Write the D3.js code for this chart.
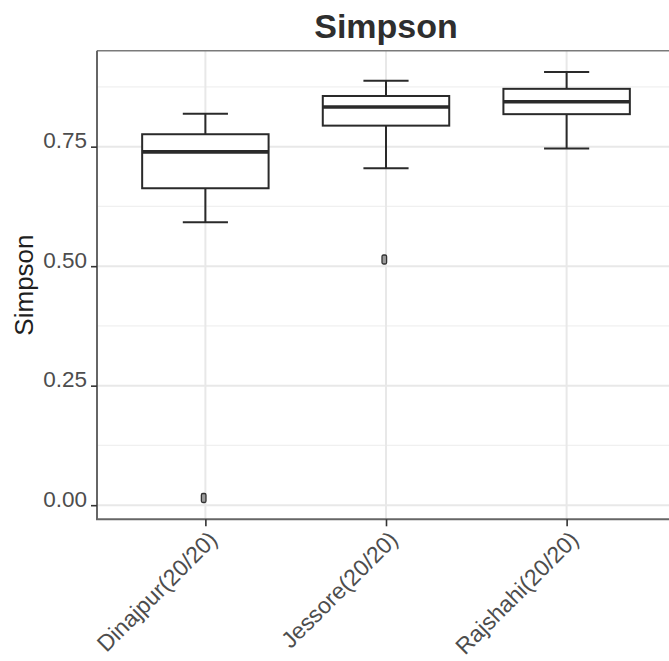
<!DOCTYPE html>
<html>
<head>
<meta charset="utf-8">
<script src="https://cdn.jsdelivr.net/npm/d3@7"></script>
<style>
  html, body { margin: 0; padding: 0; background: #fff; }
  svg { display: block; font-family: "Liberation Sans", Arial, Helvetica, sans-serif; }
</style>
</head>
<body>
<svg id="chart" width="669" height="661"></svg>
<script>
// Simpson diversity per district (five-number summaries + outliers)
const categories = ["Dinajpur(20/20)", "Jessore(20/20)", "Rajshahi(20/20)"];
const whiskerLow  = [0.592, 0.705, 0.746];
const q1          = [0.663, 0.794, 0.818];
const median      = [0.739, 0.833, 0.844];
const q3          = [0.776, 0.856, 0.871];
const whiskerHigh = [0.819, 0.888, 0.906];
const outliers    = [[0.015], [0.514], []];
const yTicks      = [0, 0.25, 0.5, 0.75];
const yMinorTicks = [0.125, 0.375, 0.625, 0.875];
const yTickLabels = ["0.00", "0.25", "0.50", "0.75"];

const svg = d3.select("#chart");
const panel = { left: 97, right: 675, top: 50.8, bottom: 519.3 };

// continuous y with 5% expansion on each side of the data range
const allVals = whiskerLow.concat(whiskerHigh, outliers.flat());
const lo = d3.min(allVals), hi = d3.max(allVals);
const pad = (hi - lo) * 0.05;
const y = d3.scaleLinear().domain([lo - pad, hi + pad]).range([panel.bottom, panel.top]);

// discrete x with 0.6 units of padding on each side
const x = d3.scalePoint().domain(categories).range([panel.left, panel.right]).padding(0.6);
const step = x.step();

const boxes = categories.map((c, i) => ({
  cat: c, lo: whiskerLow[i], q1: q1[i], med: median[i], q3: q3[i], hi: whiskerHigh[i], out: outliers[i]
}));

// panel background and grid
svg.append("rect").attr("x", panel.left).attr("y", panel.top)
  .attr("width", panel.right - panel.left).attr("height", panel.bottom - panel.top)
  .attr("fill", "#fff");

const grid = svg.append("g");
grid.selectAll("line.minor").data(yMinorTicks).join("line")
  .attr("x1", panel.left).attr("x2", panel.right)
  .attr("y1", d => y(d)).attr("y2", d => y(d))
  .attr("stroke", "#f0f0f0").attr("stroke-width", 1.3);
grid.selectAll("line.major").data(yTicks).join("line")
  .attr("x1", panel.left).attr("x2", panel.right)
  .attr("y1", d => y(d)).attr("y2", d => y(d))
  .attr("stroke", "#e8e8e8").attr("stroke-width", 2);
grid.selectAll("line.vmajor").data(categories).join("line")
  .attr("x1", d => x(d)).attr("x2", d => x(d))
  .attr("y1", panel.top).attr("y2", panel.bottom)
  .attr("stroke", "#e8e8e8").attr("stroke-width", 2);

// boxplots
const boxW = step * 0.7, capW = step * 0.25;
const g = svg.append("g").attr("stroke", "#2a2a2a").attr("fill", "none");
boxes.forEach(b => {
  const cx = x(b.cat);
  // whiskers
  g.append("line").attr("x1", cx).attr("x2", cx).attr("y1", y(b.q3)).attr("y2", y(b.hi)).attr("stroke-width", 2);
  g.append("line").attr("x1", cx).attr("x2", cx).attr("y1", y(b.q1)).attr("y2", y(b.lo)).attr("stroke-width", 2);
  g.append("line").attr("x1", cx - capW / 2).attr("x2", cx + capW / 2).attr("y1", y(b.hi)).attr("y2", y(b.hi)).attr("stroke-width", 2);
  g.append("line").attr("x1", cx - capW / 2).attr("x2", cx + capW / 2).attr("y1", y(b.lo)).attr("y2", y(b.lo)).attr("stroke-width", 2);
  // box
  g.append("rect").attr("x", cx - boxW / 2).attr("y", y(b.q3))
    .attr("width", boxW).attr("height", y(b.q1) - y(b.q3))
    .attr("fill", "#fff").attr("stroke-width", 2);
  // median
  g.append("line").attr("x1", cx - boxW / 2).attr("x2", cx + boxW / 2)
    .attr("y1", y(b.med)).attr("y2", y(b.med)).attr("stroke-width", 3.6);
  // outliers
  b.out.forEach(v => {
    g.append("rect").attr("x", cx - 4).attr("y", y(v) - 4.5)
      .attr("width", 4.6).attr("height", 9).attr("rx", 1.5)
      .attr("fill", "#9a9a9a").attr("stroke", "#333").attr("stroke-width", 1.3);
  });
});

// panel border (top) and axis lines (left, bottom)
svg.append("line").attr("x1", panel.left).attr("x2", panel.right)
  .attr("y1", panel.top).attr("y2", panel.top).attr("stroke", "#7a7a7a").attr("stroke-width", 1.6);
svg.append("line").attr("x1", panel.left).attr("x2", panel.left)
  .attr("y1", panel.top).attr("y2", panel.bottom).attr("stroke", "#666").attr("stroke-width", 2);
svg.append("line").attr("x1", panel.left - 1).attr("x2", panel.right)
  .attr("y1", panel.bottom).attr("y2", panel.bottom).attr("stroke", "#666").attr("stroke-width", 2);

// y axis
const yAxis = d3.axisLeft(y).tickValues(yTicks).tickSize(6).tickPadding(4)
  .tickFormat((d, i) => yTickLabels[i]);
const ya = svg.append("g").attr("transform", `translate(${panel.left},0)`).call(yAxis);
ya.select(".domain").remove();
ya.selectAll(".tick line").attr("stroke", "#333").attr("stroke-width", 1.6);
ya.selectAll(".tick text").attr("fill", "#4d4d4d").attr("font-size", 22.5)
  .attr("dy", "0.05em").attr("font-family", "Liberation Sans, Arial, sans-serif");

// x axis
const xAxis = d3.axisBottom(x).tickSize(7).tickPadding(0);
const xa = svg.append("g").attr("transform", `translate(0,${panel.bottom})`).call(xAxis);
xa.select(".domain").remove();
xa.selectAll(".tick line").attr("stroke", "#333").attr("stroke-width", 1.6);
xa.selectAll(".tick text")
  .attr("fill", "#4d4d4d").attr("font-size", 23).attr("font-family", "Liberation Sans, Arial, sans-serif")
  .attr("text-anchor", "end").attr("dy", "0.72em")
  .attr("transform", "translate(1,10) rotate(-45)")
  .attr("y", 0);

// titles
svg.append("text").attr("x", (panel.left + panel.right) / 2).attr("y", 37.5)
  .attr("text-anchor", "middle").attr("font-weight", "bold").attr("font-size", 34)
  .attr("fill", "#2e2e2e").text("Simpson");
svg.append("text").attr("transform", `translate(33,${(panel.top + panel.bottom) / 2}) rotate(-90)`)
  .attr("text-anchor", "middle").attr("font-size", 26).attr("fill", "#1f1f1f").text("Simpson");
</script>
</body>
</html>
